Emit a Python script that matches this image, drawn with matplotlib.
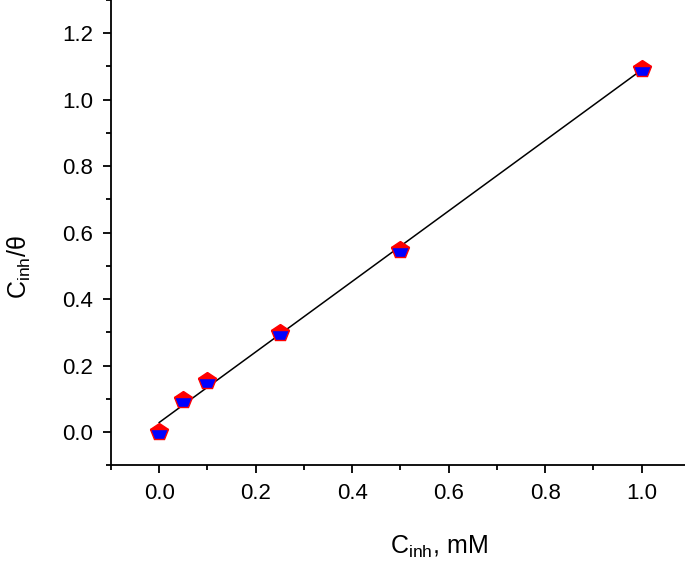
import numpy as np
import matplotlib
matplotlib.use("Agg")
import matplotlib.pyplot as plt
from matplotlib.ticker import MultipleLocator

plt.rcParams['font.family'] = ['Liberation Sans', 'DejaVu Sans']
plt.rcParams['mathtext.fontset'] = 'custom'
plt.rcParams['mathtext.rm'] = 'Liberation Sans'
plt.rcParams['mathtext.it'] = 'Liberation Sans:italic'

# data
c_inh = [0.0, 0.05, 0.1, 0.25, 0.5, 1.0]
c_over_theta = [0.0, 0.096, 0.154, 0.298, 0.549, 1.091]

fig = plt.figure(figsize=(6.85, 5.66), dpi=100)
ax = fig.add_axes([0.162, 0.178, 0.838, 0.822])

# linear fit
slope, icpt = np.polyfit(c_inh, c_over_theta, 1)
xf = np.array([min(c_inh), max(c_inh)])
ax.plot(xf, slope * xf + icpt, color='black', lw=1.1, zorder=2)

ax.plot(c_inh, c_over_theta, ls='none', marker='p', ms=13,
        fillstyle='top', markerfacecolor='red', markerfacecoloralt='blue',
        markeredgecolor='red', markeredgewidth=1.0, zorder=3)

ax.set_xlim(-0.1, 1.09)
ax.set_ylim(-0.1, 1.3)
ax.xaxis.set_major_locator(MultipleLocator(0.2))
ax.xaxis.set_minor_locator(MultipleLocator(0.1))
ax.yaxis.set_major_locator(MultipleLocator(0.2))
ax.yaxis.set_minor_locator(MultipleLocator(0.1))
ax.xaxis.set_major_formatter(plt.FormatStrFormatter('%.1f'))
ax.yaxis.set_major_formatter(plt.FormatStrFormatter('%.1f'))

for s in ['top', 'right']:
    ax.spines[s].set_visible(False)
for s in ['left', 'bottom']:
    ax.spines[s].set_linewidth(1.3)

ax.tick_params(which='major', direction='out', length=6, width=1.3, labelsize=16, pad=7)
ax.tick_params(which='minor', direction='out', length=3.5, width=1.3)

ax.set_xlabel(r'C$_\mathregular{inh}$, mM', fontsize=18)
ax.set_ylabel(r'C$_\mathregular{inh}$/θ', fontsize=18)
ax.xaxis.set_label_coords(0.572, -0.148)
ax.yaxis.set_label_coords(-0.135, 0.426)

plt.savefig('out.png', dpi=100)
